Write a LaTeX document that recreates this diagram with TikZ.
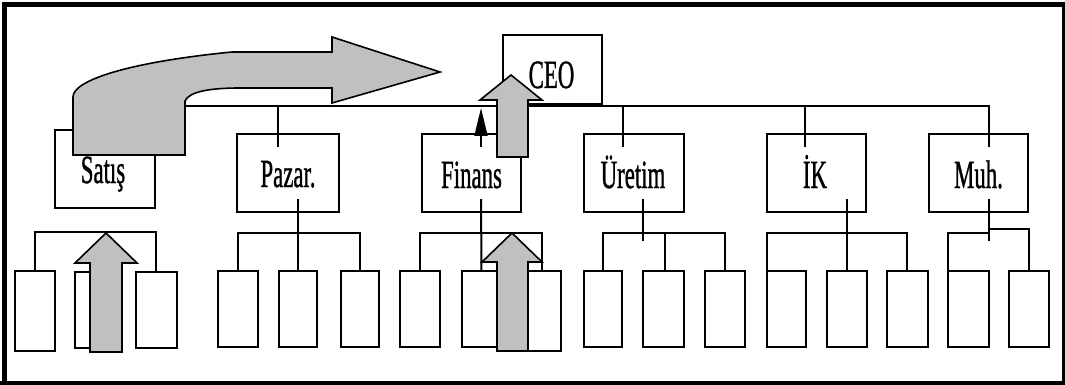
\documentclass[tikz,border=0pt]{standalone}
\usepackage{fontspec}
\newfontfamily\lblfont[FakeBold=1.2]{Liberation Serif}
\usetikzlibrary{arrows.meta}
\definecolor{arrowgray}{RGB}{192,192,192}
\newcommand{\lbl}[1]{{\lblfont\fontsize{40}{42}\selectfont\scalebox{0.57}[1]{#1}}}
\begin{document}
\begin{tikzpicture}[x=1pt,y=-1pt,
  box/.style={draw,line width=2pt,fill=white,inner sep=0pt,outer sep=0pt},
  midbox/.style={box,minimum width=99pt,minimum height=78pt},
  leaf/.style={box,minimum width=40pt,minimum height=76pt},
  conn/.style={line width=2pt},
  garrow/.style={fill=arrowgray,draw=black,line width=1.6pt,line join=miter},
  txt/.style={anchor=base,inner sep=0pt}]
\useasboundingbox (0,0) rectangle (1065,385);
\fill[white] (0,0) rectangle (1065,385);
% frame
\draw[line width=5pt] (4.3,385) -- (4.3,4.2) -- (1065,4.2);
\draw[line width=3pt] (1063.5,4.2) -- (1063.5,383.5);
\draw[line width=4pt] (1065,383.2) -- (0,383.2);

% CEO
\node[box,minimum width=99pt,minimum height=69pt] (ceo) at (552.5,69.5) {};
% level 2
\node[midbox,minimum width=100pt] (satis) at (105,169) {};
\node[midbox,minimum width=102pt] (pazar) at (288,173) {};
\node[midbox] (finans) at (471.5,173) {};
\node[midbox,minimum width=100pt] (uretim) at (634,173) {};
\node[midbox] (ik) at (816.5,173) {};
\node[midbox] (muh) at (978.5,173) {};

% leaves
\node[leaf,minimum height=80pt] (s1) at (34.5,311) {};
\node[leaf] (s2) at (94.5,309.5) {};
\node[leaf,minimum width=41pt] (s3) at (156,309.5) {};
\node[leaf] (p1) at (238,309) {};
\node[leaf,minimum width=38pt] (p2) at (298,309) {};
\node[leaf,minimum width=38pt] (p3) at (360,309) {};
\node[leaf] (f1) at (420,309) {};
\node[leaf,minimum width=40pt] (f2) at (481.5,309) {};
\node[leaf,minimum width=39pt,minimum height=80pt] (f3) at (541.5,311) {};
\node[leaf,minimum width=38pt] (u1) at (603,309) {};
\node[leaf,minimum width=41pt] (u2) at (663.5,309) {};
\node[leaf] (u3) at (725,309) {};
\node[leaf,minimum width=39pt] (k1) at (786.5,309) {};
\node[leaf] (k2) at (847,309) {};
\node[leaf,minimum width=41pt] (k3) at (907,309) {};
\node[leaf,minimum width=41pt] (m1) at (968.5,309) {};
\node[leaf] (m2) at (1029,309) {};

% labels
\node[txt] (ceoT) at (551.5,88) {\lbl{CEO}};
\node[txt] (satisT) at (103,183) {\lbl{Satış}};
\node[txt] (pazarT) at (288,187) {\lbl{Pazar.}};
\node[txt] (finansT) at (471.5,188) {\lbl{Finans}};
\node[txt] (uretimT) at (633,188) {\lbl{Üretim}};
\node[txt] (ikT) at (815,188) {\lbl{İK}};
\node[txt] (muhT) at (978.5,188) {\lbl{Muh.}};

% top bus
\coordinate (busR) at (989,106);
\draw[conn] (satis.north) |- (busR) -- ([xshift=10.5pt,yshift=-13pt]muh.north);
\draw[conn] (ceo.south) -- (ceo.south |- busR);
\draw[conn] ([xshift=-10pt]pazar.north |- busR) -- ([xshift=-10pt,yshift=-13pt]pazar.north);
\draw[conn] ([xshift=-11pt]uretim.north |- busR) -- ([xshift=-11pt,yshift=-13pt]uretim.north);
\draw[conn] ([xshift=-11.5pt]ik.north |- busR) -- ([xshift=-11.5pt,yshift=-13pt]ik.north);
\draw[conn,-{Triangle[width=13pt,length=28pt]}] ([xshift=9.5pt,yshift=-13pt]finans.north) -- ([xshift=9.5pt,yshift=-2pt]finans.north |- busR);

% child buses
\draw[conn] (s1.north) -- ++(0,-39) -| (s3.north);
\draw[conn] (p1.north) -- ++(0,-38) -| (p3.north);
\draw[conn] ([xshift=10pt,yshift=13pt]pazar.south) -- (p2.north);
\draw[conn] (f1.north) -- ++(0,-38) -| (f3.north);
\draw[conn] ([xshift=9.5pt,yshift=13pt]finans.south) -- (f2.north);
\draw[conn] (u1.north) -- ++(0,-38) -| (u3.north);
\draw[conn] ([xshift=1.5pt]u2.north) -- ++(0,-38);
\draw[conn] ([xshift=9pt,yshift=13pt]uretim.south) -- ++(0,42);
\draw[conn] (k1.north west) -- ++(0,-38) -| (k3.north);
\draw[conn] ([xshift=30.5pt,yshift=13pt]ik.south) -- (k2.north);
\draw[conn] (m1.north west) -- ++(0,-38) -- ++(41,0);
\draw[conn] ([xshift=10.5pt,yshift=13pt]muh.south) -- ++(0,42);
\draw[conn] ([xshift=10.5pt,yshift=-17pt]muh.south) -- ++(40,0) -- (m2.north);

% grey arrows
\draw[garrow] (73,155) -- (73,97) .. controls (73,80) and (130,62) .. (232,52)
  -- (332,52) -- (332,37) -- (440,72) -- (332,103) -- (332,88) -- (240,88)
  .. controls (208,88) and (189,92) .. (185,101) -- (185,155) -- cycle;
\draw[garrow] (497,157) -- (497,100) -- (480,100) -- (511,75) -- (542,100) -- (528,100) -- (528,157) -- cycle;
\draw[garrow] (90,352) -- (90,263) -- (75,263) -- (106,233) -- (137,263) -- (122,263) -- (122,352) -- cycle;
\draw[garrow] (497,351) -- (497,262) -- (482,262) -- (512,233) -- (542,262) -- (528,262) -- (528,351) -- cycle;
\end{tikzpicture}
\end{document}
